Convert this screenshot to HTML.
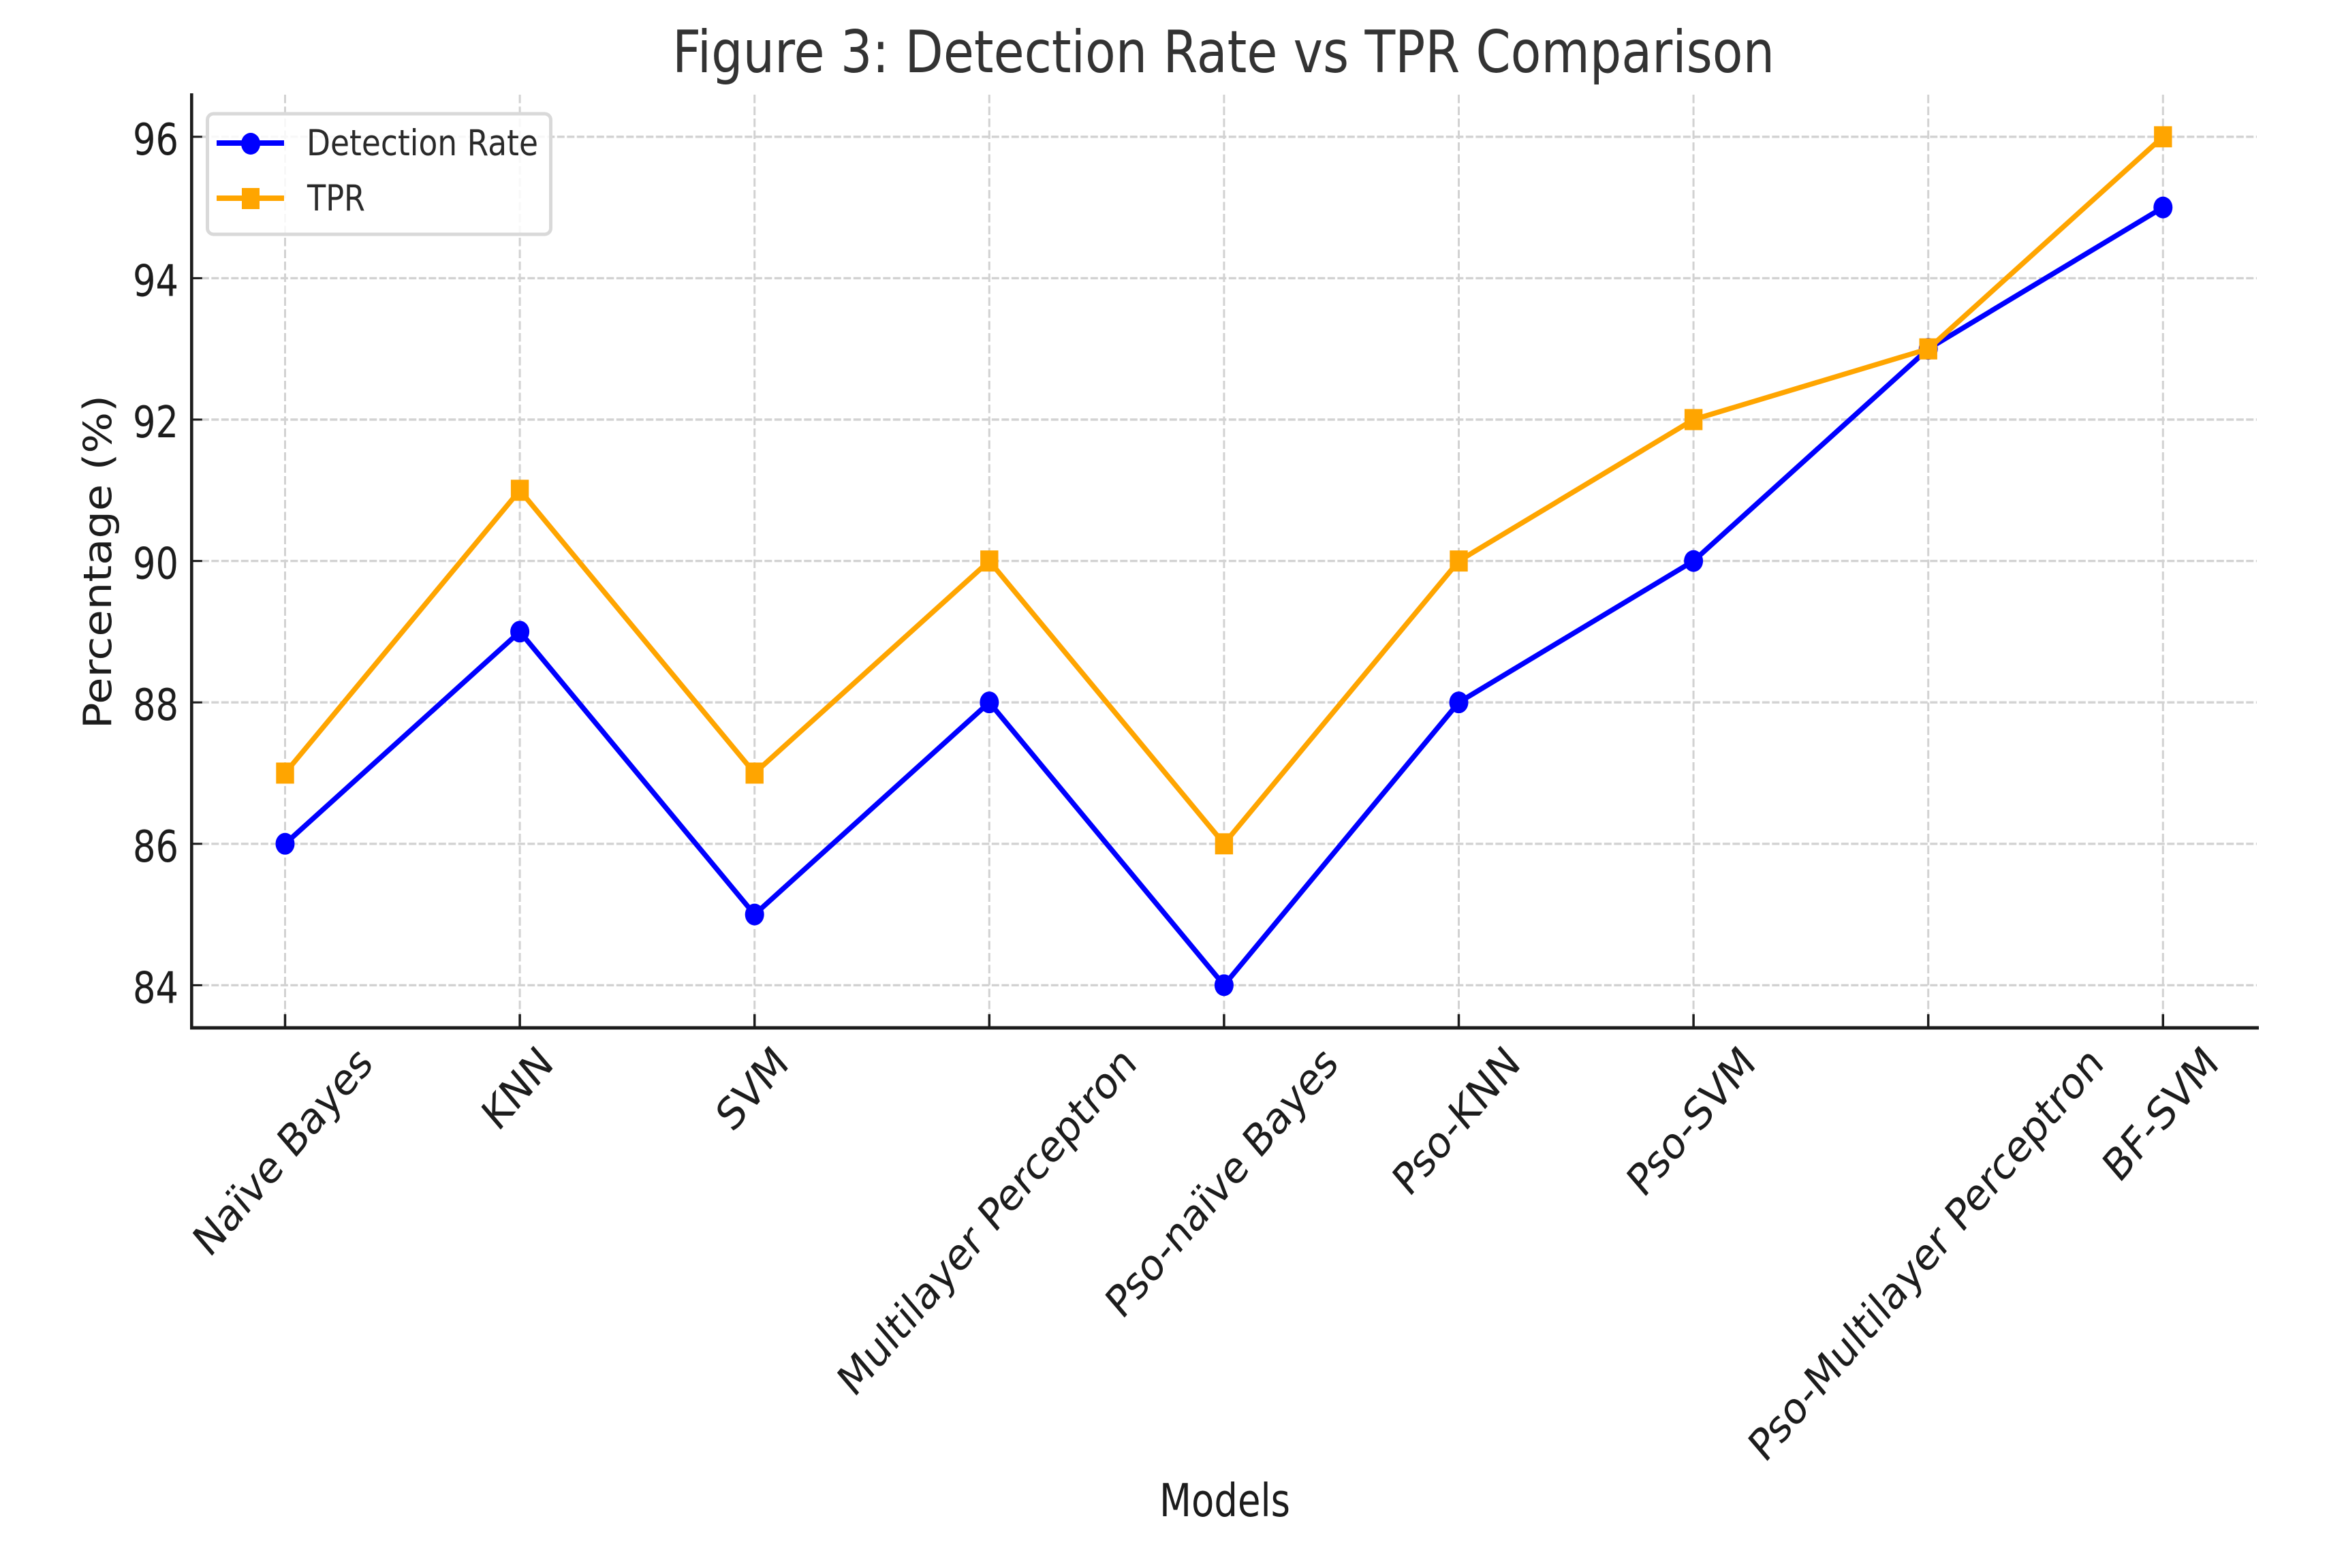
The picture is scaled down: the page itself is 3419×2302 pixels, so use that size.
<!DOCTYPE html>
<html lang="en">
<head>
<meta charset="utf-8">
<title>Figure 3: Detection Rate vs TPR Comparison</title>
<style>
html,body{margin:0;padding:0;background:#fff;width:3419px;height:2302px;overflow:hidden}
svg{display:block}
text{font-family:"DejaVu Sans","Liberation Sans",sans-serif;fill:#1c1c1c}
</style>
</head>
<body>
<svg id="chart" xmlns="http://www.w3.org/2000/svg" width="3419" height="2302" viewBox="0 0 3419 2302">
  <rect x="0" y="0" width="3419" height="2302" fill="#fff"/>
  <g id="grid"></g>
  <g id="series"></g>
  <g id="axes"></g>
  <text x="987" y="106" font-size="86" textLength="1618" lengthAdjust="spacingAndGlyphs" style="fill:#333">Figure 3: Detection Rate vs TPR Comparison</text>
  <text x="1702" y="2226" font-size="67" textLength="192" lengthAdjust="spacingAndGlyphs">Models</text>
  <text transform="translate(163 1070) rotate(-90)" font-size="57" textLength="490" lengthAdjust="spacingAndGlyphs">Percentage (%)</text>
  <g>
    <rect x="304.5" y="167" width="504" height="177" rx="9" ry="9" fill="#fff" fill-opacity="0.85" stroke="#d9d9d9" stroke-width="5"/>
    <g>
      <line x1="318" y1="210" x2="417" y2="210" stroke="#0000ff" stroke-width="8"/>
      <ellipse cx="368" cy="211" rx="14" ry="16" fill="#0000ff"/>
      <text x="450" y="228" font-size="53" textLength="340" lengthAdjust="spacingAndGlyphs" style="fill:#2a2a2a">Detection Rate</text>
    </g>
    <g>
      <line x1="318" y1="291" x2="417" y2="291" stroke="#ffa500" stroke-width="8"/>
      <rect x="355" y="276" width="26" height="31" fill="#ffa500"/>
      <text x="451" y="309" font-size="53" textLength="85" lengthAdjust="spacingAndGlyphs" style="fill:#2a2a2a">TPR</text>
    </g>
  </g>
</svg>
<script>
const categories = ["Naïve Bayes", "KNN", "SVM", "Multilayer Perceptron", "Pso-naïve Bayes", "Pso-KNN", "Pso-SVM", "Pso-Multilayer Perceptron", "BF-SVM"];
const detectionRate = [86, 89, 85, 88, 84, 88, 90, 93, 95];
const tprValues = [87, 91, 87, 90, 86, 90, 92, 93, 96];
const yTicks = [84, 86, 88, 90, 92, 94, 96];

const NS = "http://www.w3.org/2000/svg";
const plotLeft = 281.3, plotRight = 3316, plotTop = 137, plotBottom = 1509;
const xPos = i => 418.5 + 344.6 * i;
const yPos = v => 200.8 + (96 - v) * 103.8;

function make(tag, parent, attrs) {
  const el = document.createElementNS(NS, tag);
  for (const k in attrs) el.setAttribute(k, attrs[k]);
  parent.appendChild(el);
  return el;
}

const grid = document.getElementById("grid");
const axes = document.getElementById("axes");
const seriesLayer = document.getElementById("series");

yTicks.forEach(v => {
  const g = make("line", grid, {x1: plotLeft, x2: plotRight - 3, y1: yPos(v), y2: yPos(v), stroke: "#d2d2d2", "stroke-width": 3.4, "stroke-dasharray": "11 3.5"});
  
  
  const t = make("line", axes, {x1: plotLeft, x2: plotLeft + 15.5, y1: yPos(v), y2: yPos(v), stroke: "#1c1c1c", "stroke-width": 3});
  
  
  const l = make("text", axes, {x: 195, y: yPos(v) + 26, "font-size": 64, textLength: 67, lengthAdjust: "spacingAndGlyphs"});
  l.textContent = String(v);
  
  
});

categories.forEach((c, i) => {
  const g = make("line", grid, {x1: xPos(i), x2: xPos(i), y1: plotTop + 2, y2: plotBottom, stroke: "#d2d2d2", "stroke-width": 3, "stroke-dasharray": "12.5 5"});
  
  
  const t = make("line", axes, {x1: xPos(i), x2: xPos(i), y1: plotBottom - 20, y2: plotBottom, stroke: "#1c1c1c", "stroke-width": 3.5});
  
  
  const fs = 55.4, k = 1.17, top = 1526;
  const l = make("text", axes, {"font-size": fs, "text-anchor": "middle", dy: "0.36em"});
  l.textContent = c;
  
  
  const half = (l.getComputedTextLength() + fs * 0.95) * Math.SQRT1_2 / 2;
  l.setAttribute("transform", `translate(${xPos(i) - 4} ${top + half * k}) scale(1 ${k}) rotate(-45)`);
});

const ySpine = make("line", axes, {x1: plotLeft, x2: plotLeft, y1: plotTop, y2: plotBottom + 2.5, stroke: "#1c1c1c", "stroke-width": 4.6});


const xSpine = make("line", axes, {x1: plotLeft - 2.3, x2: plotRight, y1: plotBottom, y2: plotBottom, stroke: "#1c1c1c", "stroke-width": 5});



const linePoints = values => values.map((v, i) => `${xPos(i)},${yPos(v)}`).join(" ");

const blueLine = make("polyline", seriesLayer, {points: linePoints(detectionRate), fill: "none", stroke: "#0000ff", "stroke-width": 7.5, "stroke-linejoin": "round"});


detectionRate.forEach((v, i) => {
  const m = make("ellipse", seriesLayer, {cx: xPos(i), cy: yPos(v), rx: 14, ry: 16, fill: "#0000ff"});
  
  
});

const orangeLine = make("polyline", seriesLayer, {points: linePoints(tprValues), fill: "none", stroke: "#ffa500", "stroke-width": 7.5, "stroke-linejoin": "round"});


tprValues.forEach((v, i) => {
  const m = make("rect", seriesLayer, {x: xPos(i) - 13.2, y: yPos(v) - 15.5, width: 26.4, height: 31, fill: "#ffa500"});
  
  
});
</script>
</body>
</html>
